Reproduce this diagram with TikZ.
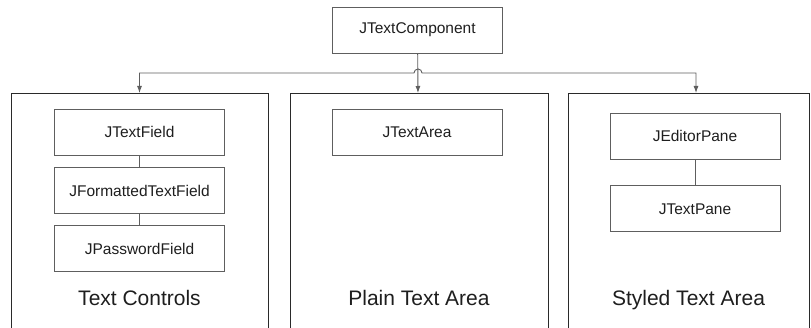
\documentclass[tikz,border=0pt]{standalone}
\usepackage{fontspec}
\setmainfont{Liberation Sans}
\usetikzlibrary{positioning,arrows.meta}
\definecolor{ink}{HTML}{1E1E1E}
\definecolor{frame}{HTML}{2A2A2A}
\definecolor{edge}{HTML}{5E5E5E}
\newcommand{\Cls}{\fontsize{15.5}{18}\selectfont}
\newcommand{\Grp}{\fontsize{21}{25}\selectfont}

\begin{document}
\begin{tikzpicture}[x=1pt,y=-1pt, font=\Cls, text=ink,
    cls/.style={draw=edge, line width=0.9pt, minimum width=170pt, minimum height=46pt, inner sep=0pt},
    grp/.style={draw=frame, line width=0.9pt, minimum height=260pt, anchor=north, inner sep=0pt},
    conn/.style={draw=edge, line width=0.9pt},
    tip/.style={-{Latex[length=7pt,width=5pt]}}]
  \useasboundingbox (0,0) rectangle (811,328);
  \clip (0,0) rectangle (811,328);
  \node[cls] (comp) at (417.5,30){JTextComponent};
  \foreach \nm/\cx/\w in {ctrl/139.5/257, plain/419/258, styled/688.5/241}{
    \node[grp, minimum width=\w pt] (\nm) at (\cx,93){};}
  % group captions
  \foreach \nm/\txt in {ctrl/Text Controls, plain/Plain Text Area, styled/Styled Text Area}{
    \node[font=\Grp, anchor=base] (\nm-cap) at (\nm.north |- 0,305.5){\txt};}
  \node[cls] (field) at (139.5,132){JTextField};
  \node[cls, below=12pt of field] (fmt){JFormattedTextField};
  \node[cls, below=11pt of fmt] (pwd){JPasswordField};
  \node[cls] (area) at (417,132.5){JTextArea};
  \node[cls] (editor) at (695,136){JEditorPane};
  \node[cls, below=26pt of editor] (pane){JTextPane};
  \draw[conn] (field) -- (fmt); \draw[conn] (fmt) -- (pwd); \draw[conn] (editor) -- (pane);
  \coordinate (lj) at (139.5,73); \coordinate (rj) at (696,73);
  \coordinate (hopl) at (414,73);
  \draw[conn, tip] (comp) -- (plain);
  \draw[conn, {Latex[length=7pt,width=5pt]}-{Latex[length=7pt,width=5pt]}]
    (ctrl.north -| lj) -- (lj) -- (hopl) arc[start angle=180, end angle=360, radius=4] -- (rj) -- (styled.north -| rj);
\end{tikzpicture}
\end{document}
